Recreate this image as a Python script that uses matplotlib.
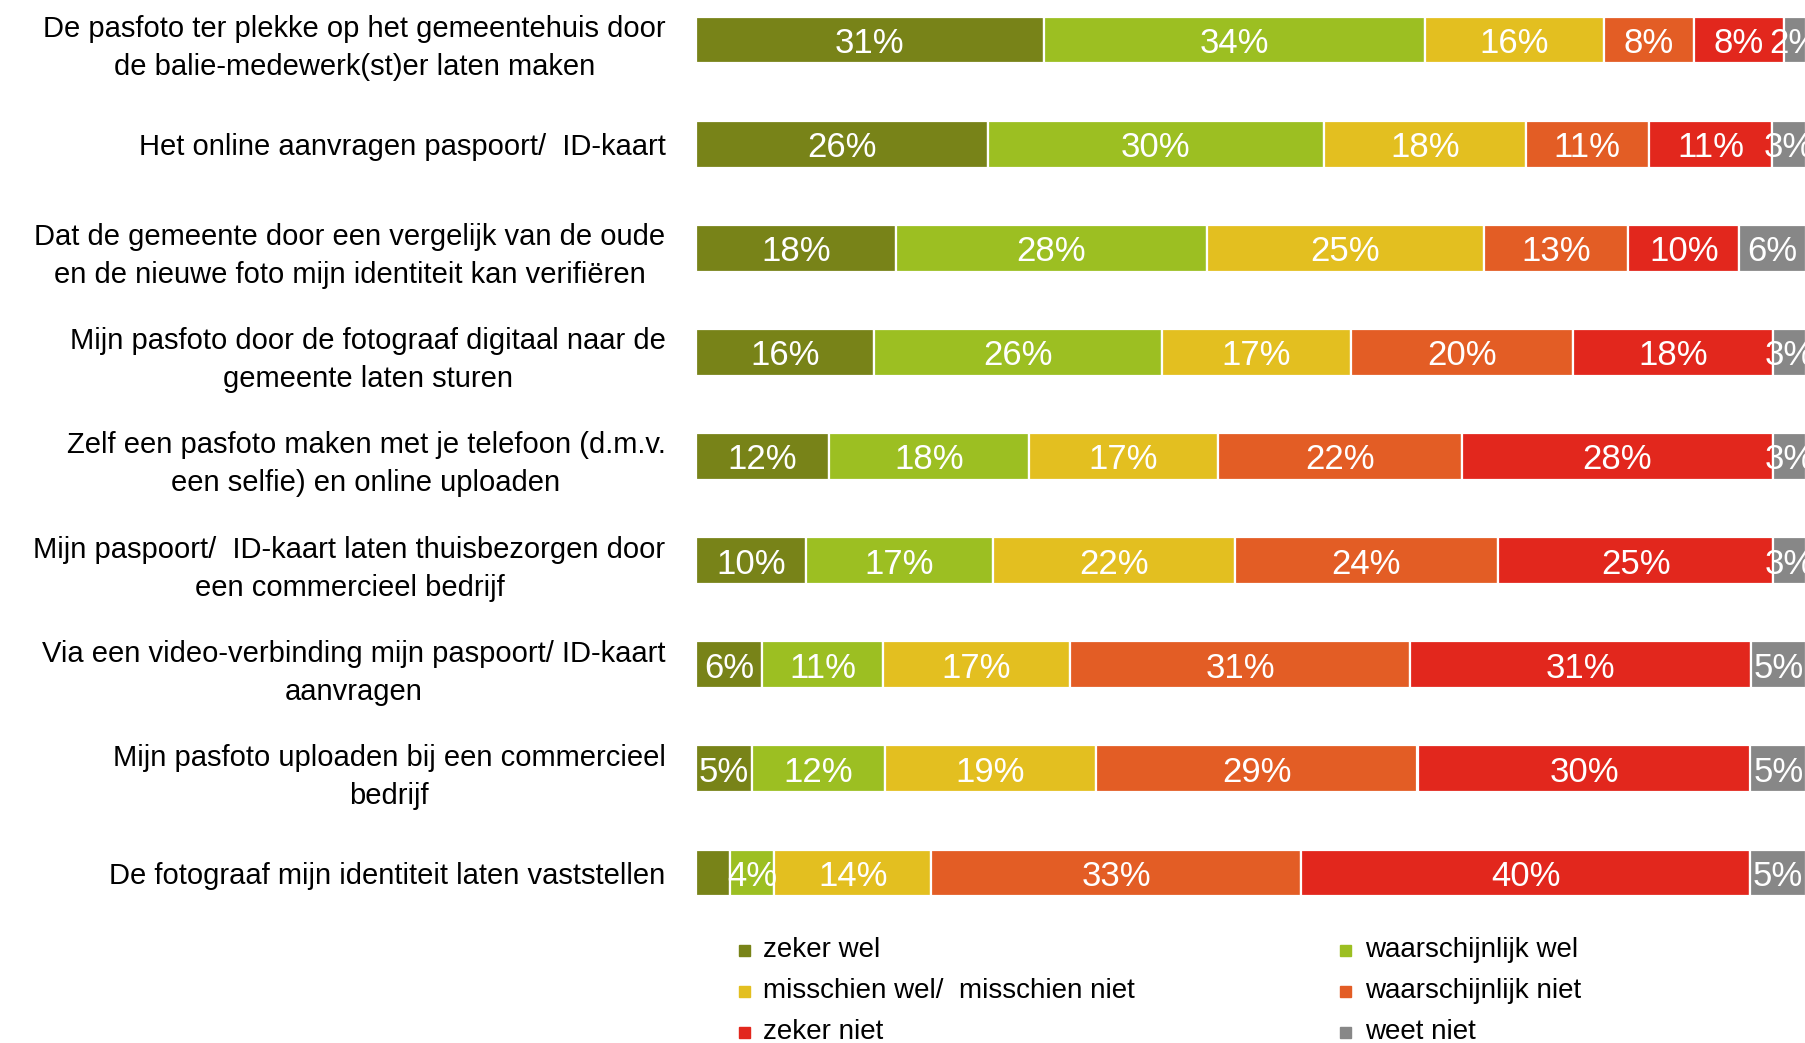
import matplotlib
matplotlib.use("Agg")
import matplotlib.pyplot as plt
from matplotlib.patches import Rectangle
import numpy as np

plt.rcParams['font.family'] = ['Liberation Sans', 'DejaVu Sans']

categories = [
    "De pasfoto ter plekke op het gemeentehuis door\nde balie-medewerk(st)er laten maken",
    "Het online aanvragen paspoort/  ID-kaart",
    "Dat de gemeente door een vergelijk van de oude\nen de nieuwe foto mijn identiteit kan verifiëren",
    "Mijn pasfoto door de fotograaf digitaal naar de\ngemeente laten sturen",
    "Zelf een pasfoto maken met je telefoon (d.m.v.\neen selfie) en online uploaden",
    "Mijn paspoort/  ID-kaart laten thuisbezorgen door\neen commercieel bedrijf",
    "Via een video-verbinding mijn paspoort/ ID-kaart\naanvragen",
    "Mijn pasfoto uploaden bij een commercieel\nbedrijf",
    "De fotograaf mijn identiteit laten vaststellen",
]

series_names = ["zeker wel", "waarschijnlijk wel", "misschien wel/  misschien niet",
                "waarschijnlijk niet", "zeker niet", "weet niet"]

zeker_wel = [31, 26, 18, 16, 12, 10, 6, 5, 3]
waarschijnlijk_wel = [34, 30, 28, 26, 18, 17, 11, 12, 4]
misschien = [16, 18, 25, 17, 17, 22, 17, 19, 14]
waarschijnlijk_niet = [8, 11, 13, 20, 22, 24, 31, 29, 33]
zeker_niet = [8, 11, 10, 18, 28, 25, 31, 30, 40]
weet_niet = [2, 3, 6, 3, 3, 3, 5, 5, 5]

# segments whose value label is not shown in the original (row, series)
hidden_labels = [(8, 0)]

colors = ["#788318", "#9CBF22", "#E3BF20", "#E35D25", "#E2271D", "#878787"]

series = np.array([zeker_wel, waarschijnlijk_wel, misschien,
                   waarschijnlijk_niet, zeker_niet, weet_niet], dtype=float)
totals = series.sum(axis=0)
shares = series / totals * 100.0

W, H = 1806, 1043
fig = plt.figure(figsize=(W / 100, H / 100), dpi=100)
ax = fig.add_axes([696 / W, 1 - 935.5 / H, 1 - 696 / W, 935.1 / H])

y = np.arange(len(categories))
left = np.zeros(len(categories))
for i, (name, col) in enumerate(zip(series_names, colors)):
    ax.barh(y, shares[i], left=left, height=0.45, color=col,
            edgecolor="white", linewidth=1.6, label=name)
    for r in range(len(categories)):
        if (r, i) in hidden_labels:
            continue
        ax.text(left[r] + shares[i][r] / 2, y[r], f"{int(series[i][r])}%",
                ha="center", va="center_baseline",
                color="white", fontsize=25, clip_on=False)
    left += shares[i]

ax.set_xlim(0, 100)
ax.set_ylim(8.6, -0.38)
ax.set_yticks(y)
ax.set_yticklabels(categories, fontsize=21, multialignment="center", linespacing=1.45)
ax.tick_params(axis="y", length=0, pad=22)
ax.set_xticks([])
for s in ax.spines.values():
    s.set_visible(False)

# legend, row-major in two columns
leg_x = [[745, 763], [1346, 1365]]
leg_y = [950, 991, 1032]
for k, (name, col) in enumerate(zip(series_names, colors)):
    row, c = divmod(k, 2)
    mx, tx = leg_x[c]
    yy = leg_y[row]
    sq = 11
    fig.patches.append(Rectangle(((mx - sq / 2) / W, 1 - (yy + sq / 2) / H), sq / W, sq / H,
                                 transform=fig.transFigure, color=col))
    fig.text(tx / W, 1 - yy / H, name, ha="left", va="center", fontsize=20)

fig.savefig("out.png", dpi=100)
